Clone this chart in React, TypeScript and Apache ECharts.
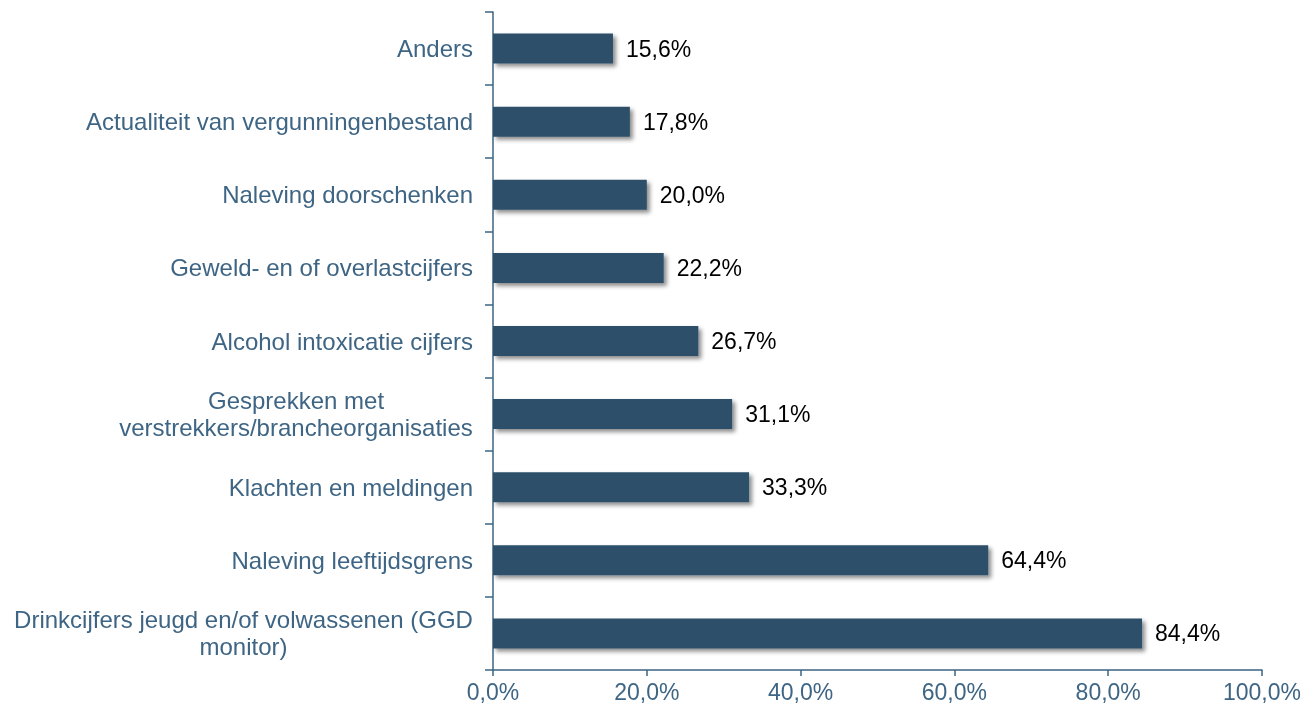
import React, { useEffect, useRef } from "react";
import * as echarts from "echarts";

const categories = [
  "Drinkcijfers jeugd en/of volwassenen (GGD\nmonitor)",
  "Naleving leeftijdsgrens",
  "Klachten en meldingen",
  "Gesprekken met\nverstrekkers/brancheorganisaties",
  "Alcohol intoxicatie cijfers",
  "Geweld- en of overlastcijfers",
  "Naleving doorschenken",
  "Actualiteit van vergunningenbestand",
  "Anders",
];
const values = [84.4, 64.4, 33.3, 31.1, 26.7, 22.2, 20.0, 17.8, 15.6];
const xTicks = [0, 20, 40, 60, 80, 100];

const fmt = (v: number) => v.toFixed(1).replace(".", ",") + "%";
const FONT = "Liberation Sans";
const CAT_SIZE = 24;

export default function App() {
  const ref = useRef<HTMLDivElement>(null);
  useEffect(() => {
    if (!ref.current) return;
    const chart = echarts.init(ref.current, undefined, { renderer: "svg" });
    const axisColor = "#3B6483";
    const labelColor = "#3E6584";

    const ctx = document.createElement("canvas").getContext("2d")!;
    ctx.font = `${CAT_SIZE}px "${FONT}"`;
    const rich: Record<string, any> = {};
    const catFormatter = (v: string) => {
      const lines = v.split("\n");
      if (lines.length === 1) return v;
      const w = Math.ceil(Math.max(...lines.map((l) => ctx.measureText(l).width)));
      const key = "c" + w;
      rich[key] = {
        width: w,
        align: "center",
        color: labelColor,
        fontSize: CAT_SIZE,
        fontFamily: FONT,
        lineHeight: 27,
      };
      return lines.map((l) => `{${key}|${l}}`).join("\n");
    };
    const formatted = categories.map(catFormatter);

    chart.setOption({
      animation: false,
      textStyle: { fontFamily: FONT },
      grid: { left: 493, top: 12, right: 43, bottom: 41, containLabel: false },
      xAxis: {
        type: "value",
        min: xTicks[0],
        max: xTicks[xTicks.length - 1],
        interval: 20,
        axisLine: { show: true, lineStyle: { color: axisColor, width: 1.5 } },
        axisTick: { show: true, length: 6, lineStyle: { color: axisColor, width: 1.5 } },
        splitLine: { show: false },
        axisLabel: {
          color: labelColor,
          fontSize: 23,
          margin: 10,
          formatter: (v: number) => fmt(v),
        },
      },
      yAxis: {
        type: "category",
        data: categories,
        axisLine: { show: true, lineStyle: { color: axisColor, width: 1.5 } },
        axisTick: { show: true, length: 8, lineStyle: { color: axisColor, width: 1.5 } },
        axisLabel: {
          color: labelColor,
          fontSize: CAT_SIZE,
          margin: 20,
          align: "right",
          lineHeight: 27,
          rich,
          formatter: (v: string) => formatted[categories.indexOf(v)],
        },
      },
      series: [
        {
          type: "bar",
          data: values,
          barWidth: 30,
          itemStyle: {
            color: "#2D5069",
            shadowColor: "rgba(0,0,0,0.45)",
            shadowBlur: 4,
            shadowOffsetX: 3,
            shadowOffsetY: 3,
          },
          label: {
            show: true,
            position: "right",
            distance: 13,
            color: "#000",
            fontSize: 23,
            formatter: (p: any) => fmt(p.value),
          },
        },
      ],
    });
    return () => chart.dispose();
  }, []);
  return (
    <div
      ref={ref}
      style={{ position: "fixed", left: 0, top: 0, width: 1305, height: 711 }}
    />
  );
}
